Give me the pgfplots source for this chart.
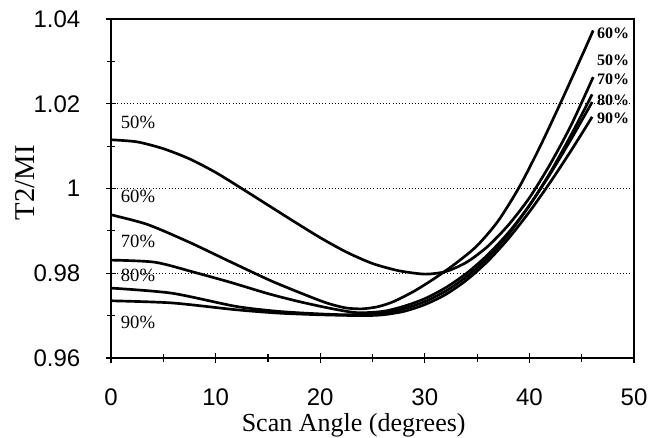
\documentclass[border=0pt]{standalone}
\usepackage{fontspec}
\setmainfont{Liberation Serif}
\newfontfamily\arial{Liberation Sans}
\usepackage{pgfplots}
\pgfplotsset{compat=1.18}
\pgfplotsset{crv/.style={black, line width=2pt, smooth, tension=0.45, mark=none}}
\begin{document}
\begin{tikzpicture}
\useasboundingbox (-83.25pt,-60pt) rectangle (408.75pt,268.5pt);
\begin{axis}[
  at={(0,0)}, anchor=south west,
  scale only axis, width=392.25pt, height=254.25pt,
  xmin=0, xmax=50, ymin=0.96, ymax=1.04,
  xtick={0,10,...,50}, minor x tick num=1,
  ytick={0.96,0.98,1,1.02,1.04}, minor y tick num=1,
  xtick pos=bottom, ytick pos=left, tick align=center,
  major tick length=7pt, minor tick length=6pt,
  tick style={line width=0.9pt, black},
  axis line style={line width=1.2pt},
  ymajorgrids, grid style={dotted, line width=0.9pt, black},
  /pgf/number format/assume math mode=true,
  /pgf/number format/.cd, fixed, precision=2, /pgfplots/.cd,
  tick label style={font=\arial\fontsize{18}{20}\selectfont},
  yticklabel style={anchor=east, xshift=-16pt},
  xticklabel style={yshift=-16pt},
  xlabel={Scan Angle (degrees)},
  ylabel={T2/MI},
  xlabel style={font=\fontsize{19.5}{22}\selectfont, at={(axis description cs:0.464,-0.198)}, anchor=center},
  ylabel style={font=\fontsize{21.5}{24}\selectfont, at={(axis description cs:-0.164,0.517)}, anchor=center},
]
% 50%
\addplot[crv] coordinates {(0,1.0115)(2.5,1.0110)(5,1.0094)(7.5,1.0070)(10,1.0038)(12.5,1.0000)(15,0.9961)(17.5,0.9922)(20,0.9884)(22.5,0.9850)(25,0.9823)(27.5,0.9806)(30,0.9798)(32,0.9804)(34,0.9826)(36,0.9863)(38,0.9914)(40,0.9978)(42,1.0058)(44,1.0150)(46.1,1.0263)};
% 60%
\addplot[crv] coordinates {(0,0.9938)(3.5,0.9915)(7.5,0.9873)(11.5,0.9826)(15.5,0.9780)(19.5,0.9740)(21,0.9727)(22.5,0.9718)(24,0.9716)(25.5,0.9721)(27,0.9733)(29,0.9758)(31,0.9789)(33,0.9824)(35,0.9865)(37,0.9923)(39,1.0002)(41,1.0098)(43,1.0203)(45,1.0312)(46.1,1.0373)};
% 70%
\addplot[crv] coordinates {(0,0.9831)(4.2,0.9826)(8,0.9802)(11.5,0.9778)(15,0.9752)(18,0.9733)(21,0.9717)(23.5,0.9707)(26,0.9710)(28,0.9722)(30,0.9740)(32,0.9766)(34,0.9800)(36,0.9843)(38,0.9896)(40,0.9960)(42,1.0038)(44,1.0127)(46,1.0222)};
% 80%
\addplot[crv] coordinates {(0,0.9765)(5.8,0.9753)(11.9,0.9722)(16,0.9710)(20,0.9704)(23,0.9702)(26,0.9706)(28,0.9716)(30,0.9733)(32,0.9758)(34,0.9792)(36,0.9836)(38,0.9892)(40,0.9960)(42,1.0035)(44,1.0117)(46,1.0204)};
% 90%
\addplot[crv] coordinates {(0,0.9735)(5.8,0.9730)(11.9,0.9714)(16,0.9706)(20,0.9702)(24,0.9700)(26,0.9702)(28,0.9710)(30,0.9726)(32,0.9750)(34,0.9784)(36,0.9828)(38,0.9882)(40,0.9945)(42,1.0015)(44,1.0090)(46,1.0169)};
% curve labels
\begin{scope}[every node/.style={font=\fontsize{14}{16}\selectfont, inner sep=0pt}]
\node at (axis cs:2.58,1.0157) {50\%};
\node at (axis cs:2.58,0.9982) {60\%};
\node at (axis cs:2.58,0.9874) {70\%};
\node at (axis cs:2.58,0.9794) {80\%};
\node at (axis cs:2.58,0.9683) {90\%};
\end{scope}
\begin{scope}[every node/.style={font=\bfseries\fontsize{12}{14}\selectfont, inner sep=0pt}]
\node at (axis cs:48.0,1.0367) {60\%};
\node at (axis cs:48.0,1.0303) {50\%};
\node at (axis cs:48.0,1.0258) {70\%};
\node at (axis cs:48.0,1.0209) {80\%};
\node at (axis cs:48.0,1.0166) {90\%};
\end{scope}
\end{axis}
\end{tikzpicture}
\end{document}
